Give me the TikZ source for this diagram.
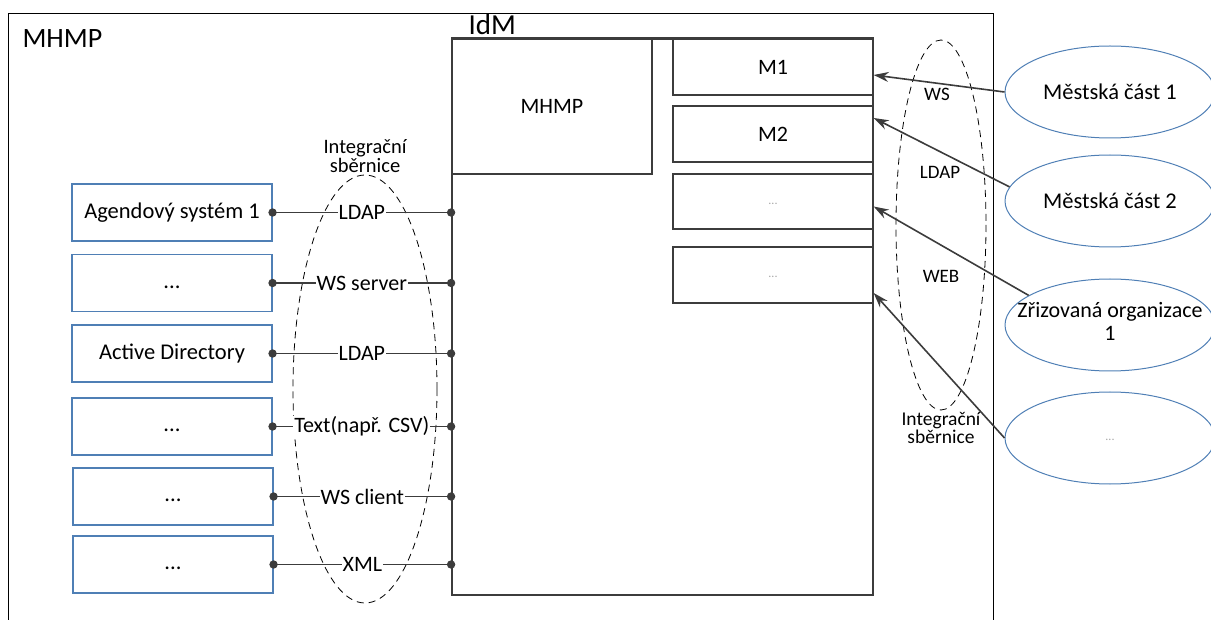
\documentclass[tikz,border=0pt]{standalone}
\usepackage{fontspec}
\setmainfont{Carlito}
\usetikzlibrary{arrows.meta,shapes.geometric}
\definecolor{boxblue}{HTML}{4F7FB5}
\definecolor{linegray}{HTML}{3C3C3C}
\newcommand{\fs}[1]{\fontsize{#1}{#1}\selectfont}
\newcommand{\gap}{\vphantom{Ag}...}
\tikzset{
  sysbox/.style={draw=boxblue, line width=1.1pt, minimum width=200pt, minimum height=57pt, inner sep=0pt, font=\fs{22.5}},
  modbox/.style={draw=linegray, line width=1.3pt, minimum width=200pt, inner sep=0pt, font=\fs{22}},
  partner/.style={ellipse, draw=boxblue, line width=1pt, minimum width=210pt, minimum height=92pt, inner sep=0pt},
  proto/.style={fill=white, inner sep=1pt, font=\fs{22}},
  buslabel/.style={font=\fs{19}, align=center},
  link/.style={draw=linegray, line width=1.3pt},
  pin/.style={fill=linegray},
  flow/.style={draw=linegray, line width=1.6pt, -{Stealth[length=15pt,width=10pt]}},
  bus/.style={draw=black, line width=0.8pt, dash pattern=on 7pt off 5pt}
}
\begin{document}
\begin{tikzpicture}[x=1pt,y=-1pt]
\useasboundingbox (0,0) rectangle (1211,620);
\clip (0,0) rectangle (1211,620);

% organisation frame
\draw[black, line width=0.9pt] (8,13) rectangle (993,640);
\node[anchor=base west, font=\fs{28}] (org) at (19,48) {MHMP};

% integration buses
\draw[bus] (365,389) ellipse [x radius=72, y radius=214];
\draw[bus] (941,225) ellipse [x radius=45, y radius=185];
\node[buslabel, font=\fs{20.5}] (busl) at (365,156) {Integrační\\[-2pt]sběrnice};
\node[buslabel, font=\fs{19.5}] (busr) at (941,428) {Integrační\\[-1pt]sběrnice};

% IdM block
\node[draw=linegray, line width=1.8pt, minimum width=421pt, minimum height=556pt, inner sep=0pt] (idm) at (662.5,317) {};
\draw[linegray, line width=2.8pt] (idm.north west) -- (idm.north east);
\node[anchor=base west, font=\fs{29}] (idmt) at (465,35) {IdM};
\node[modbox, minimum height=135pt] (core) at (552,106.5) {MHMP};
\node[modbox, minimum height=56pt] (m1) at (773,67) {M1};
\node[modbox, minimum height=56pt] (m2) at (773,134) {M2};
\node[modbox, minimum height=55pt, font=\fs{12}\color{gray!70}] (m3) at (773,201.5) {\gap};
\node[modbox, minimum height=56pt, font=\fs{12}\color{gray!70}] (m4) at (773,275) {\gap};

% agenda systems
\node[sysbox] (a1) at (172,212.5) {Agendový systém 1};
\node[sysbox] (a2) at (172,283) {\gap};
\node[sysbox] (a3) at (172,353.5) {Active Directory};
\node[sysbox] (a4) at (172,426.5) {\gap};
\node[sysbox] (a5) at (173,496.5) {\gap};
\node[sysbox] (a6) at (173,564.5) {\gap};

% connections to IdM
\foreach \s/\p in {a1/LDAP, a2/WS server, a3/LDAP, a4/Text(např. CSV), a5/WS client, a6/XML}{
  \draw[link] (\s.east) -- node[proto] {\p} (\s.east -| idm.west);
  \fill[pin] (\s.east) circle (4.2pt);
  \fill[pin] (\s.east -| idm.west) circle (4.2pt);
}

% partner organisations
\node[partner] (p1) at (1110,92) {};
\node[font=\fs{22.5}] (p1t) at (p1) {Městská část 1};
\node[partner] (p2) at (1110,201) {};
\node[font=\fs{22.5}] (p2t) at (p2) {Městská část 2};
\node[partner] (p3) at (1110,325) {};
\node[font=\fs{22}, align=center] (p3t) at (1110,321) {Zřizovaná organizace\\[1pt]1};
\node[partner] (p4) at (1110,438) {};
\node[font=\fs{12}\color{gray!70}] (p4t) at (p4) {\gap};

% protocol labels on the right bus
\node[buslabel] (ws) at (937,94) {WS};
\node[buslabel] (ldap) at (940,172) {LDAP};
\node[buslabel] (web) at (941,276) {WEB};

% flows into the modules
\draw[flow] (p1.west) -- ([yshift=-8pt]m1.east);
\draw[flow] (p2.172) -- ([yshift=16pt]m2.east);
\draw[flow] (p3.160) -- ([yshift=-5pt]m3.east);
\draw[flow] (p4.west) -- ([yshift=-18pt]m4.east);
\end{tikzpicture}
\end{document}
